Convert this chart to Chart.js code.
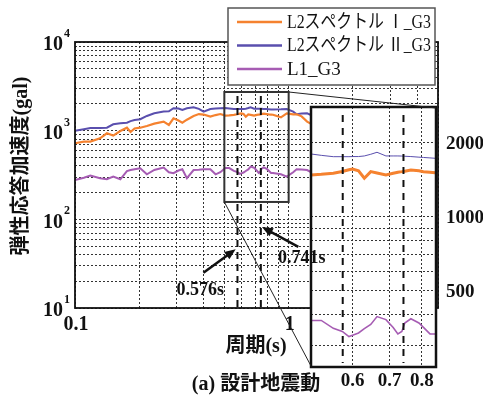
<!DOCTYPE html>
<html>
<head>
<meta charset="utf-8">
<script src="https://cdn.jsdelivr.net/npm/chart.js@4.4.0/dist/chart.umd.min.js"></script>
<style>
	html, body { margin: 0; padding: 0; background: #fff; }
	#wrap { position: relative; width: 483px; height: 401px; }
	#wrap canvas { position: absolute; left: 0; top: 0; }
</style>
</head>
<body>
<div id="wrap">
	<canvas id="main" width="483" height="401"></canvas>
	<canvas id="inset" width="483" height="401"></canvas>
</div>
<script>
// 周期 (s)
const periods = [0.100, 0.110, 0.118, 0.131, 0.141, 0.151, 0.163, 0.175, 0.182, 0.190,
	0.202, 0.217, 0.235, 0.260, 0.275, 0.289, 0.305, 0.318, 0.334, 0.359,
	0.380, 0.400, 0.430, 0.455, 0.479, 0.505, 0.527, 0.554, 0.575, 0.591,
	0.600, 0.615, 0.630, 0.647, 0.664, 0.689, 0.710, 0.724, 0.736, 0.745,
	0.764, 0.790, 0.805, 0.827, 0.845, 0.920, 0.980, 1.050, 1.090, 1.150,
	1.220, 1.400, 1.700, 2.000, 2.500, 3.000, 4.000, 5.000];

// 弾性応答加速度 (gal)
const specI = [721, 752, 752, 820, 935, 880, 990, 1080, 965, 1060,
	1080, 1130, 1200, 1265, 1160, 1380, 1300, 1232, 1330, 1465,
	1540, 1520, 1440, 1500, 1540, 1482, 1490, 1505, 1530, 1555,
	1567, 1540, 1437, 1528, 1510, 1482, 1505, 1520, 1528, 1535,
	1553, 1540, 1528, 1520, 1513, 1415, 1570, 1530, 1530, 1450,
	1265, 1050, 820, 650, 480, 380, 290, 232];
const specII = [1000, 1040, 1070, 1075, 1080, 1180, 1210, 1230, 1280, 1320,
	1345, 1465, 1570, 1640, 1650, 1790, 1780, 1710, 1790, 1840,
	1760, 1640, 1757, 1780, 1790, 1803, 1780, 1758, 1758, 1758,
	1760, 1760, 1770, 1798, 1832, 1770, 1770, 1770, 1768, 1765,
	1760, 1750, 1745, 1738, 1732, 1740, 1757, 1640, 1530, 1560,
	1570, 1350, 1050, 820, 600, 460, 340, 270];
const specL1 = [278, 295, 311, 290, 283, 303, 283, 350, 360, 368,
	377, 322, 360, 383, 340, 331, 355, 367, 291, 360,
	362, 367, 367, 322, 340, 379, 379, 352, 342, 326,
	330, 337, 351, 365, 393, 382, 355, 334, 342, 370,
	385, 370, 355, 334, 334, 322, 303, 340, 367, 365,
	360, 300, 240, 190, 150, 125, 100, 91];

const seriesNames = ["L2スペクトル Ⅰ_G3", "L2スペクトル Ⅱ_G3", "L1_G3"];
const seriesColors = ["#f5822f", "#5a4fae", "#a65cb3"];

const mainXTicks = [0.1, 0.2, 0.3, 0.4, 0.5, 0.6, 0.7, 0.8, 0.9, 1, 2, 3, 4, 5];
const mainXLabels = [0.1, 1];
const mainYTicks = [10, 20, 30, 40, 50, 60, 70, 80, 90, 100, 200, 300, 400, 500, 600, 700, 800, 900,
	1000, 2000, 3000, 4000, 5000, 6000, 7000, 8000, 9000, 10000];
const mainYLabels = [10, 100, 1000, 10000];

const insetXTicks = [0.6, 0.7, 0.8];
const insetYTicks = [300, 400, 500, 600, 700, 800, 900, 1000, 2000];
const insetYLabels = [500, 1000, 2000];

const markPeriods = [0.576, 0.741];
const zoomX = [0.5, 1.0];
const zoomY = [157, 2730];

const SERIF = '"Liberation Serif", "DejaVu Serif", serif';
const JP = '"Liberation Serif", "Noto Sans CJK JP", sans-serif';

function makeDatasets(widths) {
	const all = [specI, specII, specL1];
	return all.map((vals, i) => ({
		label: seriesNames[i],
		data: periods.map((p, j) => ({ x: p, y: vals[j] })),
		borderColor: seriesColors[i],
		borderWidth: widths[i],
		pointRadius: 0,
		tension: 0,
		fill: false
	}));
}

function logAxis(min, max, ticks) {
	return {
		type: "logarithmic",
		min, max,
		afterBuildTicks: (s) => { s.ticks = ticks.map(v => ({ value: v })); },
		ticks: { display: false },
		grid: { color: "#333", lineWidth: 1, drawTicks: false },
		border: { display: false, dash: [2, 2] }
	};
}

function arrow(ctx, x0, y0, x1, y1) {
	const a = Math.atan2(y1 - y0, x1 - x0);
	ctx.beginPath();
	ctx.moveTo(x0, y0);
	ctx.lineTo(x1 - 8 * Math.cos(a), y1 - 8 * Math.sin(a));
	ctx.stroke();
	ctx.beginPath();
	ctx.moveTo(x1, y1);
	ctx.lineTo(x1 - 11 * Math.cos(a) + 4.5 * Math.sin(a), y1 - 11 * Math.sin(a) - 4.5 * Math.cos(a));
	ctx.lineTo(x1 - 11 * Math.cos(a) - 4.5 * Math.sin(a), y1 - 11 * Math.sin(a) + 4.5 * Math.cos(a));
	ctx.closePath();
	ctx.fill();
}

const mainPlugin = {
	id: "mainDeco",
	beforeDraw(chart) {
		const ctx = chart.ctx;
		ctx.save();
		ctx.fillStyle = "#fff";
		ctx.fillRect(0, 0, chart.width, chart.height);
		ctx.restore();
	},
	afterDraw(chart) {
		const ctx = chart.ctx;
		const a = chart.chartArea;
		const sx = chart.scales.x, sy = chart.scales.y;
		ctx.save();

		// frame
		ctx.strokeStyle = "#111";
		ctx.lineWidth = 1.8;
		ctx.strokeRect(a.left, a.top, a.right - a.left, a.bottom - a.top);

		// zoom box
		const bx0 = sx.getPixelForValue(zoomX[0]), bx1 = sx.getPixelForValue(zoomX[1]);
		const by0 = sy.getPixelForValue(zoomY[1]), by1 = sy.getPixelForValue(zoomY[0]);

		// dashed period marks
		ctx.strokeStyle = "#111";
		ctx.lineWidth = 2;
		ctx.setLineDash([7, 5]);
		markPeriods.forEach(p => {
			const x = sx.getPixelForValue(p);
			ctx.beginPath();
			ctx.moveTo(x, by0 + 4);
			ctx.lineTo(x, a.bottom);
			ctx.stroke();
		});
		ctx.setLineDash([]);

		ctx.strokeStyle = "#333";
		ctx.lineWidth = 2;
		ctx.strokeRect(bx0, by0, bx1 - bx0, by1 - by0);

		// tick labels
		ctx.fillStyle = "#111";
		ctx.textAlign = "center";
		ctx.textBaseline = "middle";
		ctx.font = "bold 20px " + SERIF;
		mainXLabels.forEach(v => {
			ctx.fillText(String(v), sx.getPixelForValue(v) + 1, a.bottom + 17);
		});
		mainYLabels.forEach(v => {
			const y = sy.getPixelForValue(v);
			const e = Math.round(Math.log10(v));
			ctx.textAlign = "right";
			ctx.font = "bold 20px " + SERIF;
			ctx.fillText("10", a.left - 12, y + 3);
			ctx.textAlign = "left";
			ctx.font = "bold 12px " + SERIF;
			ctx.fillText(String(e), a.left - 11, y - 8);
		});

		// axis titles
		ctx.font = "bold 20px " + JP;
		ctx.textAlign = "center";
		ctx.fillText("周期(s)", 256, 347, 66);
		ctx.fillText("(a) 設計地震動", 256, 385, 144);
		ctx.save();
		ctx.translate(22, 166);
		ctx.rotate(-Math.PI / 2);
		ctx.fillText("弾性応答加速度(gal)", 0, 0, 194);
		ctx.restore();

		// legend
		ctx.fillStyle = "#fff";
		ctx.fillRect(228, 8, 207, 77);
		ctx.strokeStyle = "#555";
		ctx.lineWidth = 1.5;
		ctx.strokeRect(228, 8, 207, 77);
		const rowsY = [22, 45.5, 69];
		seriesNames.forEach((name, i) => {
			ctx.strokeStyle = seriesColors[i];
			ctx.lineWidth = 2.5;
			ctx.beginPath();
			ctx.moveTo(237, rowsY[i]);
			ctx.lineTo(282, rowsY[i]);
			ctx.stroke();
			ctx.fillStyle = "#111";
			ctx.font = "19px " + JP;
			ctx.textAlign = "left";
			ctx.fillText(name, 287, rowsY[i] + 1, i < 2 ? 144 : 60);
		});
		ctx.restore();
	}
};

const mainChart = new Chart(document.getElementById("main"), {
	type: "line",
	data: { datasets: makeDatasets([2.2, 2, 2]) },
	options: {
		responsive: false,
		animation: false,
		devicePixelRatio: 1,
		layout: { padding: { left: 75, right: 45, top: 42, bottom: 93 } },
		plugins: { legend: { display: false }, tooltip: { enabled: false } },
		scales: {
			x: logAxis(0.1, 5, mainXTicks),
			y: logAxis(10, 10000, mainYTicks)
		}
	},
	plugins: [mainPlugin]
});

const insetPlugin = {
	id: "insetDeco",
	beforeDraw(chart) {
		const ctx = chart.ctx;
		const a = chart.chartArea;
		ctx.save();
		ctx.fillStyle = "#fff";
		ctx.fillRect(a.left, a.top, a.right - a.left, a.bottom - a.top);
		ctx.restore();
	},
	afterDraw(chart) {
		const ctx = chart.ctx;
		const a = chart.chartArea;
		const sx = chart.scales.x, sy = chart.scales.y;
		const mx = mainChart.scales.x, my = mainChart.scales.y;
		ctx.save();

		// dashed period marks
		ctx.strokeStyle = "#111";
		ctx.lineWidth = 2;
		ctx.setLineDash([7, 6]);
		markPeriods.forEach(p => {
			const x = sx.getPixelForValue(p);
			ctx.beginPath();
			ctx.moveTo(x, a.top + 8);
			ctx.lineTo(x, a.bottom - 4);
			ctx.stroke();
		});
		ctx.setLineDash([]);

		ctx.strokeStyle = "#111";
		ctx.lineWidth = 2.5;
		ctx.strokeRect(a.left, a.top, a.right - a.left, a.bottom - a.top);

		// connectors to zoom box
		ctx.strokeStyle = "#222";
		ctx.lineWidth = 1;
		ctx.beginPath();
		ctx.moveTo(mx.getPixelForValue(zoomX[1]), my.getPixelForValue(zoomY[1]));
		ctx.lineTo(a.right, a.top + 1);
		ctx.moveTo(mx.getPixelForValue(zoomX[0]), my.getPixelForValue(zoomY[0]));
		ctx.lineTo(a.left, a.bottom - 1);
		ctx.stroke();

		// arrows and labels for the marked periods (on top of the inset)
		ctx.fillStyle = "#111";
		ctx.strokeStyle = "#111";
		ctx.lineWidth = 2.5;
		arrow(ctx, mx.getPixelForValue(0.399), my.getPixelForValue(25), mx.getPixelForValue(0.565), my.getPixelForValue(46));
		arrow(ctx, mx.getPixelForValue(1.11), my.getPixelForValue(49), mx.getPixelForValue(0.75), my.getPixelForValue(82));
		ctx.font = "bold 18px " + SERIF;
		ctx.textAlign = "center";
		ctx.textBaseline = "middle";
		ctx.fillText(markPeriods[0] + "s", mx.getPixelForValue(0.386), my.getPixelForValue(16));
		ctx.fillText(markPeriods[1] + "s", mx.getPixelForValue(1.15), my.getPixelForValue(36.7));

		// tick labels
		ctx.fillStyle = "#111";
		ctx.font = "bold 19px " + SERIF;
		ctx.textAlign = "center";
		ctx.textBaseline = "middle";
		insetXTicks.forEach(v => {
			ctx.fillText(v.toFixed(1), sx.getPixelForValue(v), a.bottom + 14);
		});
		ctx.textAlign = "left";
		insetYLabels.forEach(v => {
			ctx.fillText(String(v), a.right + 10, sy.getPixelForValue(v) + 1);
		});
		ctx.restore();
	}
};

new Chart(document.getElementById("inset"), {
	type: "line",
	data: { datasets: makeDatasets([3, 1, 1.6]) },
	options: {
		responsive: false,
		animation: false,
		devicePixelRatio: 1,
		layout: { padding: { left: 311, right: 47, top: 107, bottom: 34 } },
		plugins: { legend: { display: false }, tooltip: { enabled: false } },
		scales: {
			x: logAxis(0.505, 0.848, insetXTicks),
			y: logAxis(245, 2800, insetYTicks)
		}
	},
	plugins: [insetPlugin]
});
</script>
</body>
</html>
